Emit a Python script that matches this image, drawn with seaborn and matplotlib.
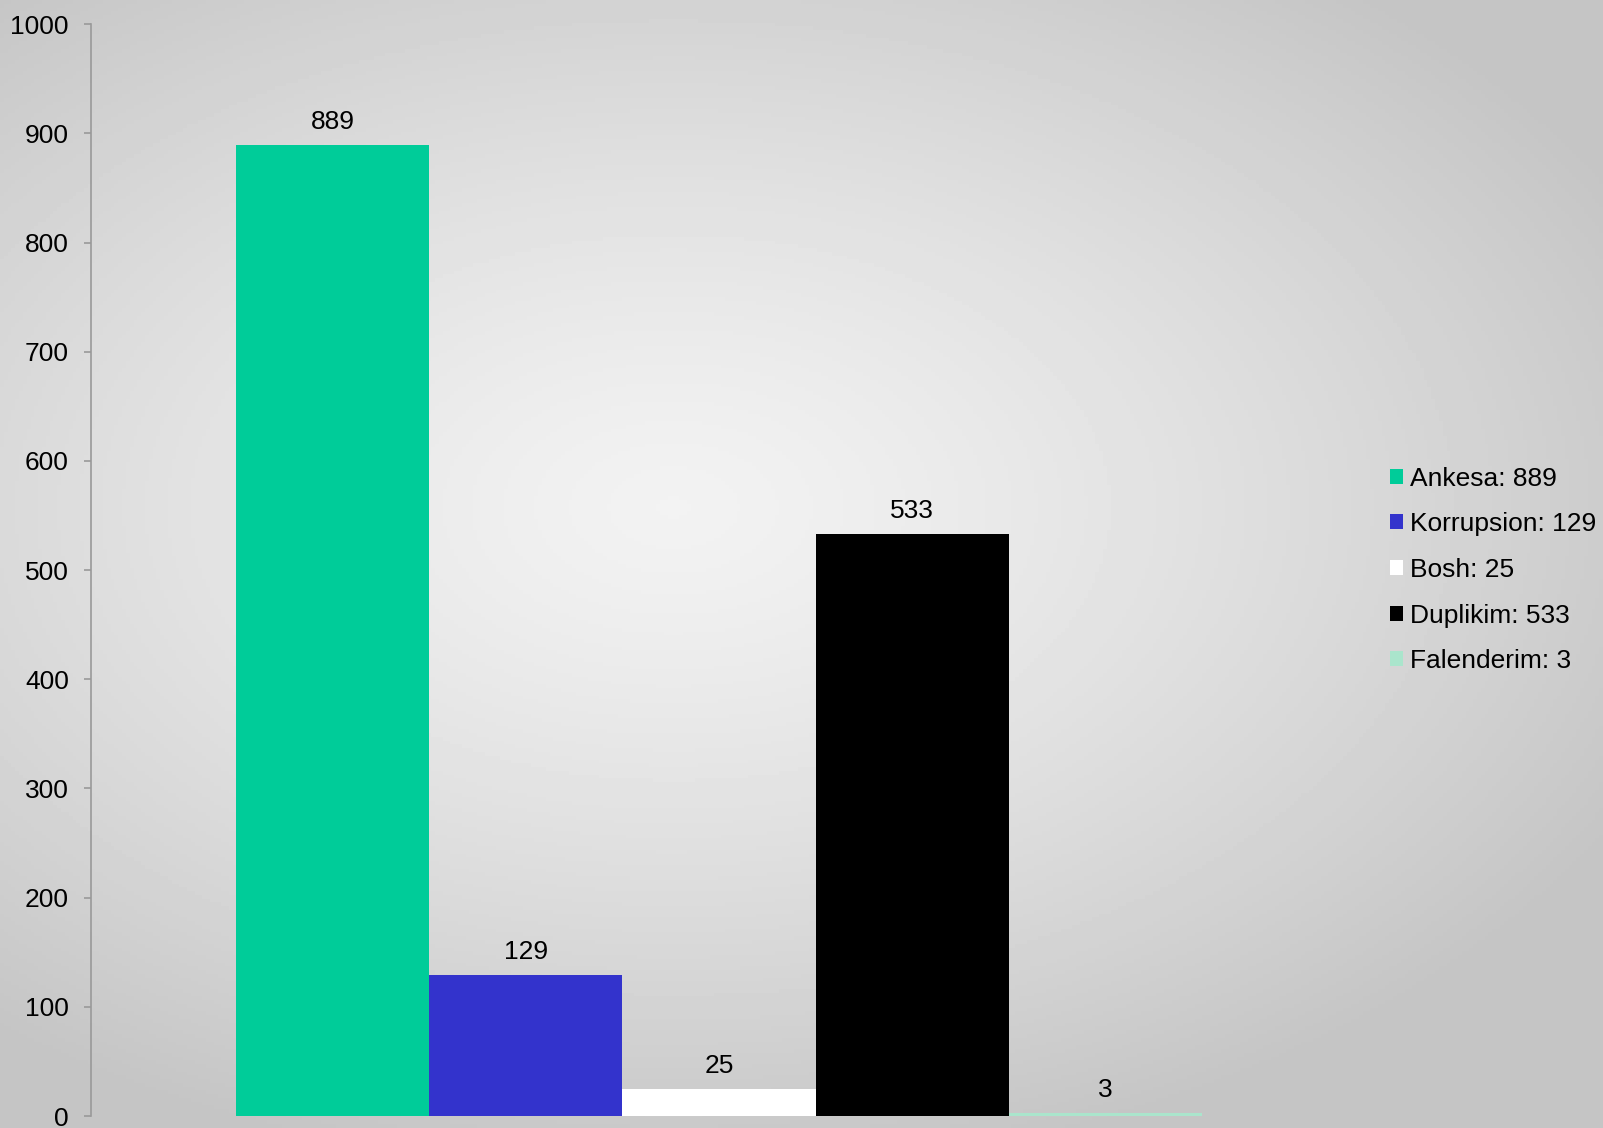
import numpy as np
import pandas as pd
import seaborn as sns
import matplotlib.pyplot as plt
from matplotlib.patches import Patch

sns.set_theme(style="white")
plt.rcParams["font.family"] = ["Liberation Sans", "DejaVu Sans"]

categories = ["Ankesa", "Korrupsion", "Bosh", "Duplikim", "Falenderim"]
counts = [889, 129, 25, 533, 3]
colors = ["#00CC99", "#3333CC", "#FFFFFF", "#000000", "#AAE5CC"]

df = pd.DataFrame({"category": categories, "count": counts})

fig = plt.figure(figsize=(16.03, 11.28), dpi=100)

# grey radial background
bg = fig.add_axes([0, 0, 1, 1], zorder=-10)
yy, xx = np.mgrid[0:1:300j, 0:1:420j]
r = np.sqrt(((xx - 0.42) / 0.9) ** 2 + ((yy - 0.45) / 0.8) ** 2)
shade = 0.95 - 0.18 * np.clip(r / 0.75, 0, 1) ** 1.3
bg.imshow(shade, cmap="gray", vmin=0, vmax=1, aspect="auto", extent=(0, 1, 0, 1))
bg.set_axis_off()

ax = fig.add_axes([0.0568, 0.0106, 0.7835, 0.968])
ax.patch.set_alpha(0)

sns.barplot(data=df, x="category", y="count", hue="category",
            palette=colors, width=1.0, legend=False, saturation=1,
            linewidth=0, ax=ax)

for c in ax.containers:
    ax.bar_label(c, padding=8, fontsize=19, color="black")

ax.set_ylim(0, 1000)
ax.set_xlim(-1.2505, 5.25)
ax.set_yticks(range(0, 1001, 100))
ax.set_xticks([])
ax.set_xlabel("")
ax.set_ylabel("")
ax.tick_params(axis="y", which="both", left=True, length=5, width=1.2,
               color="#999999", pad=11, labelsize=19, labelcolor="black")
for side in ["top", "right", "bottom"]:
    ax.spines[side].set_visible(False)
ax.spines["left"].set_color("#999999")
ax.spines["left"].set_linewidth(1.2)

handles = [Patch(facecolor=col, edgecolor="none") for col in colors]
labels = [f"{c}: {v}" for c, v in zip(categories, counts)]
fig.legend(handles, labels, loc="center left", bbox_to_anchor=(0.8588, 0.4947),
           frameon=False, fontsize=19, handlelength=0.5, handleheight=0.5,
           handletextpad=0.25, labelspacing=0.82, borderpad=0,
           labelcolor="black")

fig.savefig("out.png", dpi=100)
